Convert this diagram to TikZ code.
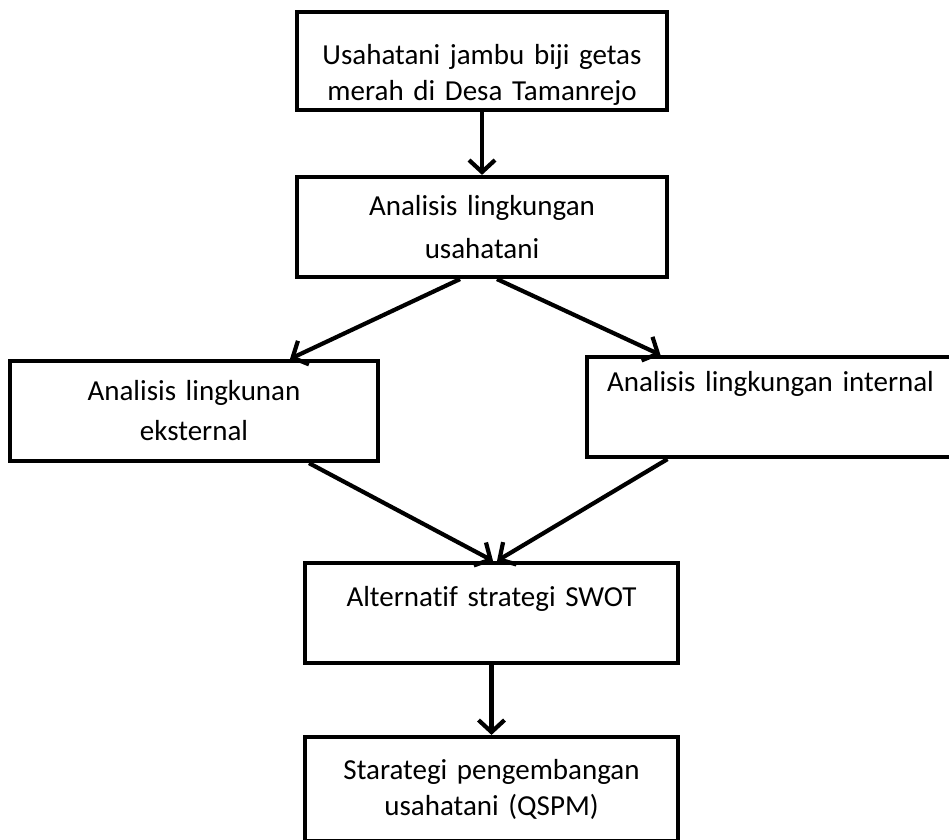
\documentclass[tikz,border=0pt]{standalone}
\usepackage{fontspec}
\setmainfont{Carlito}[Ligatures=NoCommon]
\usetikzlibrary{arrows.meta}

\begin{document}
\begin{tikzpicture}[
    x=1pt, y=-1pt,
    every node/.style={font=\fontsize{29}{36}\selectfont},
    box/.style={draw, line width=4.2pt, align=center, inner sep=0pt, text width=340pt, minimum height=100pt},
    flow/.style={-{Straight Barb[length=12pt, width=26pt]}, line width=4.2pt}
]
\useasboundingbox (0,0) rectangle (949,839);
\node[box, minimum width=370pt, minimum height=98pt] (usahatani) at (482,61) {\rule{0pt}{47pt}Usahatani jambu biji getas\\merah di Desa Tamanrejo};
\node[box, minimum width=370pt, font=\fontsize{29}{43}\selectfont] (lingkungan) at (482,227) {Analisis lingkungan\\usahatani};
\node[box, minimum width=368pt, font=\fontsize{29}{40}\selectfont] (eksternal) at (194,411) {Analisis lingkunan\\eksternal};
\node[box, minimum width=367pt, font=\fontsize{29}{40}\selectfont] (internal) at (770.5,407) {Analisis lingkungan internal\\\strut};
\node[box, minimum width=373pt] (swot) at (491.5,613) {\rule{0pt}{34pt}Alternatif strategi SWOT\\\strut};
\node[box, minimum width=373pt, minimum height=104pt] (qspm) at (491.5,789) {Starategi pengembangan\\usahatani (QSPM)};
\draw[flow] (usahatani) -- (lingkungan);
\draw[flow] ([xshift=-22pt]lingkungan.south) -- ([xshift=96pt]eksternal.north);
\draw[flow] ([xshift=15pt]lingkungan.south) -- ([xshift=-110pt]internal.north);
\draw[flow] ([xshift=115pt]eksternal.south) -- ([xshift=1.5pt]swot.north);
\draw[flow] ([xshift=-103pt]internal.south) -- ([xshift=5.5pt]swot.north);
\draw[flow] (swot) -- (qspm);
\end{tikzpicture}
\end{document}
